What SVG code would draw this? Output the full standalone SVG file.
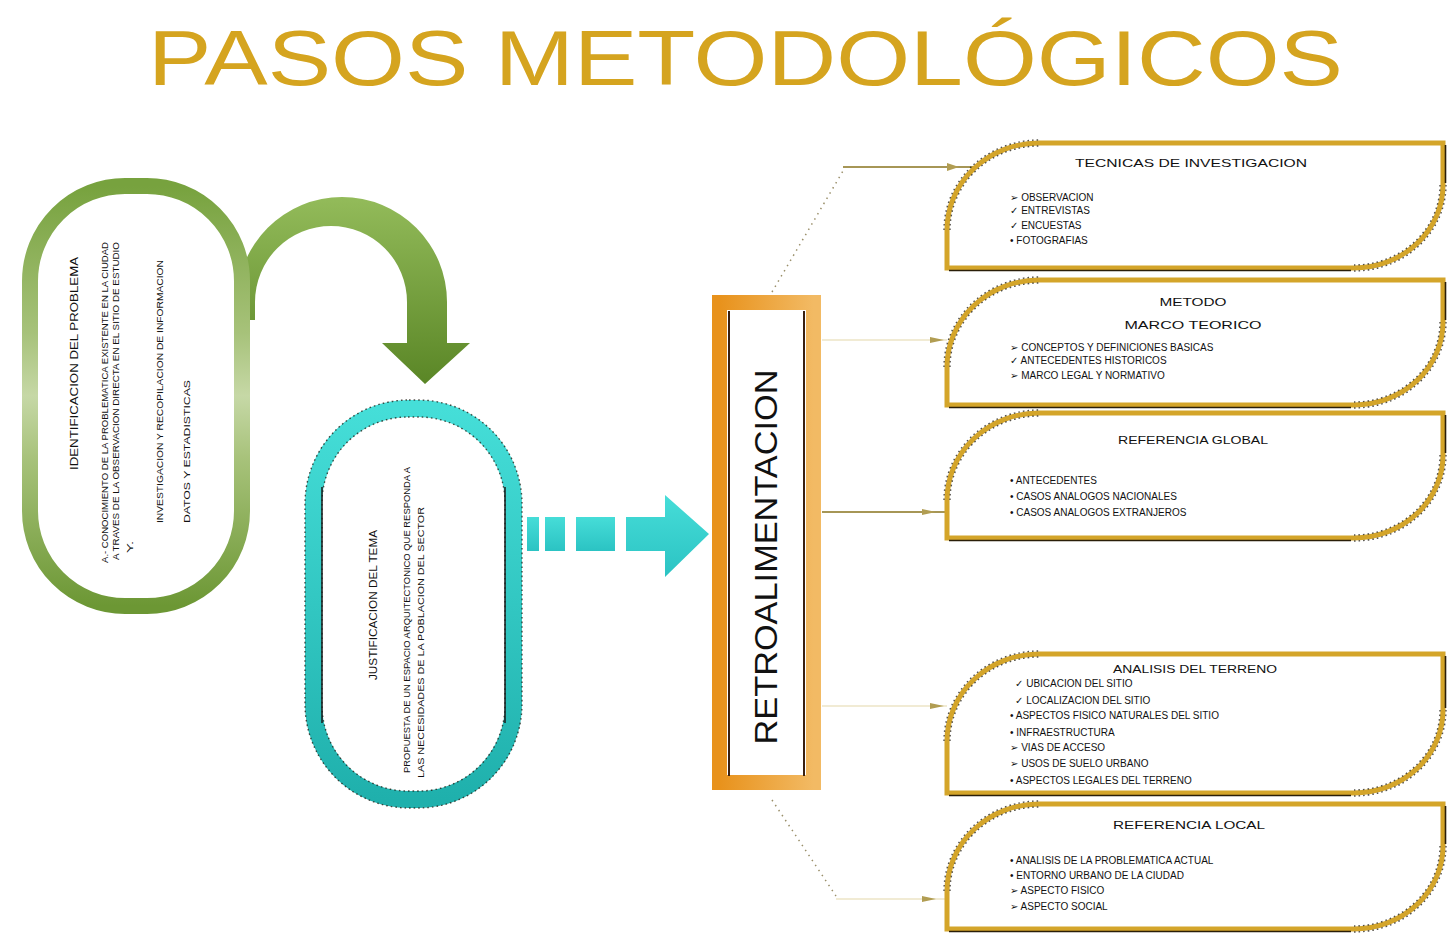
<svg xmlns="http://www.w3.org/2000/svg" xmlns:xlink="http://www.w3.org/1999/xlink" width="1450" height="934" viewBox="0 0 1450 934">
<defs>
<linearGradient id="gStroke" x1="0" y1="0" x2="0" y2="1">
<stop offset="0" stop-color="#77A23E"/><stop offset="0.35" stop-color="#A7C27A"/><stop offset="0.5" stop-color="#C6D8A6"/><stop offset="0.65" stop-color="#A7C27A"/><stop offset="1" stop-color="#6C9734"/>
</linearGradient>
<linearGradient id="gArrow" x1="0" y1="0" x2="0" y2="1">
<stop offset="0" stop-color="#93BB5A"/><stop offset="1" stop-color="#5A8626"/>
</linearGradient>
<linearGradient id="tStroke" x1="0" y1="0" x2="0" y2="1">
<stop offset="0" stop-color="#45DED8"/><stop offset="1" stop-color="#1FB0AC"/>
</linearGradient>
<linearGradient id="tArrow" x1="0" y1="0" x2="0" y2="1">
<stop offset="0" stop-color="#46DDD8"/><stop offset="1" stop-color="#2BC3C3"/>
</linearGradient>
<linearGradient id="oStroke" x1="0" y1="0" x2="1" y2="0">
<stop offset="0" stop-color="#E8921C"/><stop offset="1" stop-color="#F2BA64"/>
</linearGradient>
<style>
.t{font-family:"Liberation Sans",Arial,"DejaVu Sans",sans-serif;fill:#111}
.bt{font-size:11px}
.it{font-size:10px}
.gold{fill:#fff;stroke:#D4A52A;stroke-width:5}
.dots{fill:none;stroke:#1d1a10;stroke-width:1.4;stroke-dasharray:1.6 3;opacity:0.75}
.shade{fill:none;stroke:#2A1E08;stroke-width:1.6}
.dotline{fill:none;stroke:#9A8F6A;stroke-width:1.5;stroke-dasharray:1.5 4.5}
.cs{fill:none;stroke:#A69656;stroke-width:2}
.cf{fill:none;stroke:#ECE4C6;stroke-width:1.5}
.mk{fill:#B19D52}
</style>
<g id="shape125">
<path class="gold" d="M0,125 L0,87 A92,87 0 0 1 92,0 L496,0 L496,42 A89,83 0 0 1 407,125 Z"/>
<path class="dots" d="M-3,87 A95,90 0 0 1 92,-3 M3,87 A89,84 0 0 1 92,3 M499,42 A92,86 0 0 1 407,128 M493,42 A86,80 0 0 1 407,122"/>
<path class="shade" d="M2,127.5 H404 M498.5,2 V40"/>
</g>
<g id="shape139">
<path class="gold" d="M0,139 L0,87 A92,87 0 0 1 92,0 L496,0 L496,56 A89,83 0 0 1 407,139 Z"/>
<path class="dots" d="M-3,87 A95,90 0 0 1 92,-3 M3,87 A89,84 0 0 1 92,3 M499,56 A92,86 0 0 1 407,142 M493,56 A86,80 0 0 1 407,136"/>
<path class="shade" d="M2,141.5 H404 M498.5,2 V54"/>
</g>
</defs>
<rect x="0" y="0" width="1450" height="934" fill="#fff"/>

<g id="title">
<text x="148" y="85" textLength="1195" lengthAdjust="spacingAndGlyphs" font-family="Liberation Sans, Arial, sans-serif" font-size="77" fill="#D5A41F">PASOS METODOLÓGICOS</text>
</g>

<g id="connectors">
<path d="M237,320 L237,302 A105,105 0 0 1 447,302 L447,343 L470,343 L425,384 L382,343 L407,343 L407,302 A76,76 0 0 0 255,302 L255,320 Z" fill="url(#gArrow)"/>
<g fill="url(#tArrow)">
<rect x="527" y="517" width="12" height="34"/>
<rect x="545" y="517" width="20" height="34"/>
<rect x="576" y="517" width="39" height="34"/>
<path d="M626,517 H665 V495 L709,534 L665,577 V551 H626 Z"/>
</g>
<path class="dotline" d="M772,292 L843,171"/>
<path class="cs" d="M843,167 H974"/>
<path class="mk" d="M947,163 L959,167 L947,171 Z"/>
<path class="cf" d="M822,340 H947"/>
<path class="mk" d="M930,337 L944,340 L930,343 Z"/>
<path class="cs" d="M822,512 H947"/>
<path class="mk" d="M922,509 L936,512 L922,515 Z"/>
<path class="cf" d="M822,706 H947"/>
<path class="mk" d="M930,703 L944,706 L930,709 Z"/>
<path class="dotline" d="M772,800 L836,896"/>
<path class="cf" d="M836,899 H947"/>
<path class="mk" d="M922,896 L936,899 L922,902 Z"/>
</g>

<g id="node-identificacion">
<rect x="30" y="186" width="212" height="420" rx="95" ry="95" fill="#fff" stroke="url(#gStroke)" stroke-width="16"/>
<text class="t" font-size="11" transform="translate(78,470) rotate(-90)" textLength="213" lengthAdjust="spacingAndGlyphs">IDENTIFICACION DEL PROBLEMA</text>
<text class="t" font-size="8.5" transform="translate(108,563) rotate(-90)" textLength="321" lengthAdjust="spacingAndGlyphs">A.- CONOCIMIENTO DE LA PROBLEMATICA EXISTENTE EN LA CIUDAD</text>
<text class="t" font-size="8.5" transform="translate(119,560) rotate(-90)" textLength="318" lengthAdjust="spacingAndGlyphs">A TRAVES DE LA OBSERVACION DIRECTA EN EL SITIO DE ESTUDIO</text>
<text class="t" font-size="8.5" transform="translate(133,553) rotate(-90)" textLength="12" lengthAdjust="spacingAndGlyphs">Y.</text>
<text class="t" font-size="8.5" fill="#333" transform="translate(163,523) rotate(-90)" textLength="263" lengthAdjust="spacingAndGlyphs">INVESTIGACION Y RECOPILACION DE INFORMACION</text>
<text class="t" font-size="8.5" fill="#333" transform="translate(190,523) rotate(-90)" textLength="143" lengthAdjust="spacingAndGlyphs">DATOS Y ESTADISTICAS</text>
</g>

<g id="node-justificacion">
<rect x="313.5" y="408.5" width="200" height="391" rx="95" ry="95" fill="#fff" stroke="url(#tStroke)" stroke-width="17"/>
<rect x="305" y="400" width="217" height="408" rx="104" ry="104" class="dots" opacity="0.5"/>
<rect x="322" y="417" width="183" height="374" rx="86" ry="86" class="dots" opacity="0.5"/>
<path d="M322,487 V723 M505,487 V723" stroke="#1a1a1a" stroke-width="1.5" fill="none"/>
<text class="t" font-size="10" transform="translate(377,680) rotate(-90)" textLength="150" lengthAdjust="spacingAndGlyphs">JUSTIFICACION DEL TEMA</text>
<text class="t" font-size="8.5" transform="translate(410,773) rotate(-90)" textLength="306" lengthAdjust="spacingAndGlyphs">PROPUESTA DE UN ESPACIO ARQUITECTONICO QUE RESPONDA A</text>
<text class="t" font-size="8.5" transform="translate(424,778) rotate(-90)" textLength="271" lengthAdjust="spacingAndGlyphs">LAS NECESIDADES DE LA POBLACION DEL SECTOR</text>
</g>

<g id="node-retroalimentacion">
<rect x="719.5" y="302.5" width="94" height="480" fill="#fff" stroke="url(#oStroke)" stroke-width="15"/>
<path d="M729,311 V776 M804,311 V776" stroke="#3A2010" stroke-width="2" fill="none"/>
<text class="t" font-size="32" text-anchor="middle" transform="translate(777,557) rotate(-90)" textLength="375" lengthAdjust="spacingAndGlyphs">RETROALIMENTACION</text>
</g>

<g id="node-tecnicas">
<use xlink:href="#shape125" href="#shape125" transform="translate(947,143)"/>
<text class="t bt" x="1191" y="167" text-anchor="middle" textLength="232" lengthAdjust="spacingAndGlyphs">TECNICAS DE INVESTIGACION</text>
<text class="t it" x="1010" y="201">➢ OBSERVACION</text>
<text class="t it" x="1010" y="214">✓ ENTREVISTAS</text>
<text class="t it" x="1010" y="229">✓ ENCUESTAS</text>
<text class="t it" x="1010" y="244">• FOTOGRAFIAS</text>
</g>

<g id="node-metodo">
<use xlink:href="#shape125" href="#shape125" transform="translate(947,280)"/>
<text class="t bt" x="1193" y="306" text-anchor="middle" textLength="67" lengthAdjust="spacingAndGlyphs">METODO</text>
<text class="t bt" x="1193" y="329" text-anchor="middle" textLength="137" lengthAdjust="spacingAndGlyphs">MARCO TEORICO</text>
<text class="t it" x="1010" y="351">➢ CONCEPTOS Y DEFINICIONES BASICAS</text>
<text class="t it" x="1010" y="364">✓ ANTECEDENTES HISTORICOS</text>
<text class="t it" x="1010" y="379">➢ MARCO LEGAL Y NORMATIVO</text>
</g>

<g id="node-referencia-global">
<use xlink:href="#shape125" href="#shape125" transform="translate(947,413)"/>
<text class="t bt" x="1193" y="444" text-anchor="middle" textLength="150" lengthAdjust="spacingAndGlyphs">REFERENCIA GLOBAL</text>
<text class="t it" x="1010" y="484">• ANTECEDENTES</text>
<text class="t it" x="1010" y="500">• CASOS ANALOGOS NACIONALES</text>
<text class="t it" x="1010" y="516">• CASOS ANALOGOS EXTRANJEROS</text>
</g>

<g id="node-analisis">
<use xlink:href="#shape139" href="#shape139" transform="translate(947,654)"/>
<text class="t bt" x="1195" y="673" text-anchor="middle" textLength="164" lengthAdjust="spacingAndGlyphs">ANALISIS DEL TERRENO</text>
<text class="t it" x="1015" y="687">✓ UBICACION DEL SITIO</text>
<text class="t it" x="1015" y="704">✓ LOCALIZACION DEL SITIO</text>
<text class="t it" x="1010" y="719">• ASPECTOS FISICO NATURALES DEL SITIO</text>
<text class="t it" x="1010" y="736">• INFRAESTRUCTURA</text>
<text class="t it" x="1010" y="751">➢ VIAS DE ACCESO</text>
<text class="t it" x="1010" y="767">➢ USOS DE SUELO URBANO</text>
<text class="t it" x="1010" y="784">• ASPECTOS LEGALES DEL TERRENO</text>
</g>

<g id="node-referencia-local">
<use xlink:href="#shape125" href="#shape125" transform="translate(947,804)"/>
<text class="t bt" x="1189" y="829" text-anchor="middle" textLength="152" lengthAdjust="spacingAndGlyphs">REFERENCIA LOCAL</text>
<text class="t it" x="1010" y="864">• ANALISIS DE LA PROBLEMATICA ACTUAL</text>
<text class="t it" x="1010" y="879">• ENTORNO URBANO DE LA CIUDAD</text>
<text class="t it" x="1010" y="894">➢ ASPECTO FISICO</text>
<text class="t it" x="1010" y="910">➢ ASPECTO SOCIAL</text>
</g>
</svg>
